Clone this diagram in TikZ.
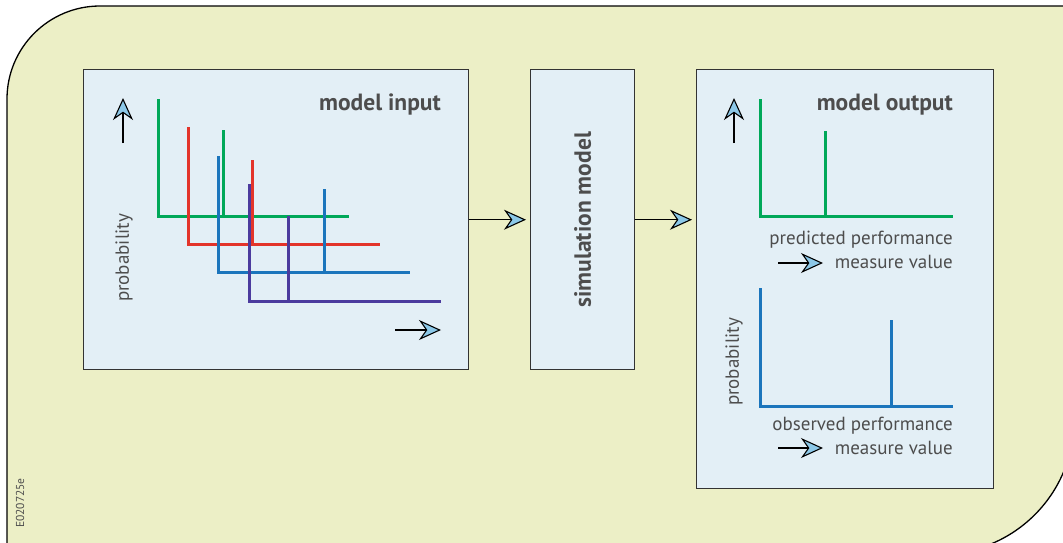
\documentclass[tikz,border=0pt]{standalone}
\usepackage{fontspec}
\setmainfont{PT Sans}
\usetikzlibrary{arrows.meta,positioning,calc}

\definecolor{bgyellow}{RGB}{236,239,198}
\definecolor{boxblue}{RGB}{227,239,246}
\definecolor{boxline}{RGB}{51,51,51}
\definecolor{textgray}{RGB}{77,77,77}
\definecolor{tipblue}{RGB}{140,200,232}
\definecolor{pgreen}{RGB}{0,168,89}
\definecolor{pred}{RGB}{227,52,42}
\definecolor{pblue}{RGB}{27,117,188}
\definecolor{ppurple}{RGB}{75,59,158}

\tikzset{
  panel/.style={draw=boxline, line width=1.4pt, fill=boxblue, anchor=north west, inner sep=0pt},
  tip/.style={-{Stealth[length=22pt,width=20pt,inset=7pt,fill=tipblue,line width=1.1pt]}, line width=1.2pt, black},
  curve/.style={line width=3pt},
  lbl/.style={text=textgray, font=\fontsize{19}{22}\selectfont, inner sep=0pt},
  ttl/.style={text=textgray, font=\bfseries\fontsize{23.5}{26}\selectfont, inner sep=0pt},
}

\begin{document}
\begin{tikzpicture}[x=1pt, y=-1pt]
    \clip (0,0) rectangle (1063,542);

    % Background sheet
    \path[fill=bgyellow, draw=black, line width=1.3pt]
        (7,600) -- (7,99) arc[start angle=180, end angle=90, radius=93pt]
        -- (1074,6) -- (1074,420) arc[start angle=0, end angle=-90, radius=134pt]
        -- (-10,554) -- (-10,600) -- cycle;
    \node[text=textgray, font=\fontsize{11.5}{12}\selectfont, rotate=90, inner sep=0pt] (code) at (20,503) {E020725e};

    % Panels
    \node[panel, minimum width=385pt, minimum height=300pt] (inbox) at (83,69) {};
    \node[panel, minimum width=104pt, minimum height=300pt] (simbox) at (530,69) {};
    \node[panel, minimum width=297pt, minimum height=419pt] (outbox) at (696,69) {};

    % Connections between panels
    \draw[tip, shorten >=4pt] (inbox.east) -- (simbox.west);
    \draw[tip, shorten >=4pt] (simbox.east) -- (simbox.east -| outbox.west);

    % Model input
    \node[ttl, anchor=base east] (intitle) at (441,110) {model input};
    \node[lbl, rotate=90] (inprob) at (124,258) {probability};
    \draw[tip] (123,143) -- (123,98);
    \draw[tip] (395,330) -- (441,330);
    \draw[curve, pgreen] (158,99) -- (158,216) -- (349,216);
    \draw[curve, pgreen] (223,130) -- (223,216);
    \draw[curve, pred] (188,127) -- (188,244) -- (380,244);
    \draw[curve, pred] (252,160) -- (252,244);
    \draw[curve, pblue] (218,156) -- (218,272) -- (410,272);
    \draw[curve, pblue] (324,189) -- (324,272);
    \draw[curve, ppurple] (249,184) -- (249,301) -- (441,301);
    \draw[curve, ppurple] (288,216) -- (288,301);

    % Simulation model
    \node[ttl, rotate=90] (simtitle) at (simbox.center) {simulation model};

    % Model output
    \node[ttl, anchor=base east] (outtitle) at (953,110) {model output};
    \draw[tip] (734,143) -- (734,98);
    \draw[curve, pgreen] (760,99) -- (760,216) -- (953,216);
    \draw[curve, pgreen] (825,131) -- (825,216);
    \node[lbl, anchor=base east] (pred1) at (953,244) {predicted performance};
    \node[lbl, anchor=base east] (pred2) at (953,268) {measure value};
    \draw[tip] (778,263) -- (823,263);

    \node[lbl, rotate=90] (outprob) at (734,362) {probability};
    \draw[curve, pblue] (760,288) -- (760,406) -- (953,406);
    \draw[curve, pblue] (891,320) -- (891,406);
    \node[lbl, anchor=base east] (obs1) at (953,430) {observed performance};
    \node[lbl, anchor=base east] (obs2) at (953,454) {measure value};
    \draw[tip] (778,448) -- (823,448);
\end{tikzpicture}
\end{document}
